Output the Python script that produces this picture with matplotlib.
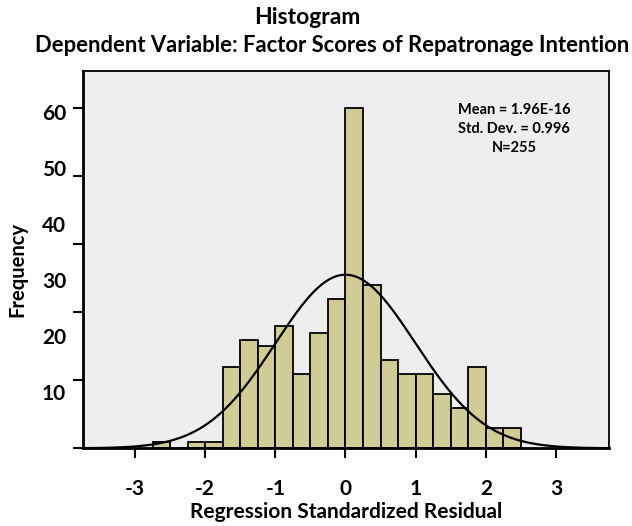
import numpy as np
import matplotlib
matplotlib.use("Agg")
import matplotlib.pyplot as plt

# bin left edges (width 0.25) and counts
bin_left = [-2.75, -2.5, -2.25, -2.0, -1.75, -1.5, -1.25, -1.0, -0.75, -0.5,
            -0.25, 0.0, 0.25, 0.5, 0.75, 1.0, 1.25, 1.5, 1.75, 2.0, 2.25]
counts = [1, 0, 1, 1, 12, 16, 15, 18, 11, 17,
          22, 50, 24, 13, 11, 11, 8, 6, 12, 3, 3]
bin_width = 0.25

mean = 1.96e-16
std = 0.996
n = 255

x_ticks = [-3, -2, -1, 0, 1, 2, 3]
y_ticks = [0, 10, 20, 30, 40, 50]
y_labels = ['0', '10', '20', '30', '40', '50', '60']

plt.rcParams['font.family'] = ['Lato', 'DejaVu Sans']
plt.rcParams['font.weight'] = 'bold'

fig = plt.figure(figsize=(6.32, 5.26), dpi=100)
ax = fig.add_axes([0.1309, 0.1477, 0.8322, 0.7173])
ax.set_facecolor('#eeeeee')

ax.bar(bin_left, counts, width=bin_width, align='edge',
       color='#d1cb96', edgecolor='black', linewidth=1.3, zorder=2)

xs = np.linspace(-3.75, 3.75, 400)
ys = n * bin_width * np.exp(-0.5 * ((xs - mean) / std) ** 2) / (std * np.sqrt(2 * np.pi))
ax.plot(xs, ys, color='black', linewidth=1.6, zorder=3)

ax.set_xlim(-3.745, 3.751)
ax.set_ylim(0, 55.5)

ax.set_xticks(x_ticks)
ax.set_xticklabels([str(t) for t in x_ticks], fontsize=15, fontweight='bold')
ax.set_yticks(y_ticks)
ax.set_yticklabels([''] * len(y_ticks))
# the tick labels in the original sit on a compressed spacing
ax.set_yticks([k * 8.25 for k in range(len(y_labels))], minor=True)
ax.set_yticklabels(y_labels, minor=True, fontsize=15, fontweight='bold')
ax.tick_params(axis='y', which='minor', length=0, pad=12)
ax.tick_params(axis='both', which='major', length=7, width=1.5, color='black')
ax.tick_params(axis='x', which='major', pad=15)

for s in ax.spines.values():
    s.set_linewidth(1.3)
    s.set_color('black')
ax.spines['bottom'].set_linewidth(2)
ax.spines['left'].set_linewidth(2)

ax.set_xlabel('Regression Standardized Residual', fontsize=15, fontweight='bold', labelpad=2)
ax.set_ylabel('Frequency', fontsize=14.5, fontweight='bold')
ax.yaxis.set_label_coords(-0.106, 0.475)

fig.text(0.487, 1 - 18 / 526, 'Histogram', ha='center', va='center',
         fontsize=16.5, fontweight='bold')
fig.text(0.526, 1 - 45 / 526, 'Dependent Variable: Factor Scores of Repatronage Intention',
         ha='center', va='center', fontsize=15.8, fontweight='bold')

ax.text(0.82, 0.846, 'Mean = 1.96E-16\nStd. Dev. = 0.996\nN=255',
        transform=ax.transAxes, ha='center', va='center', fontsize=10.5,
        fontweight='bold', linespacing=1.45)

fig.savefig('out.png', dpi=100)
